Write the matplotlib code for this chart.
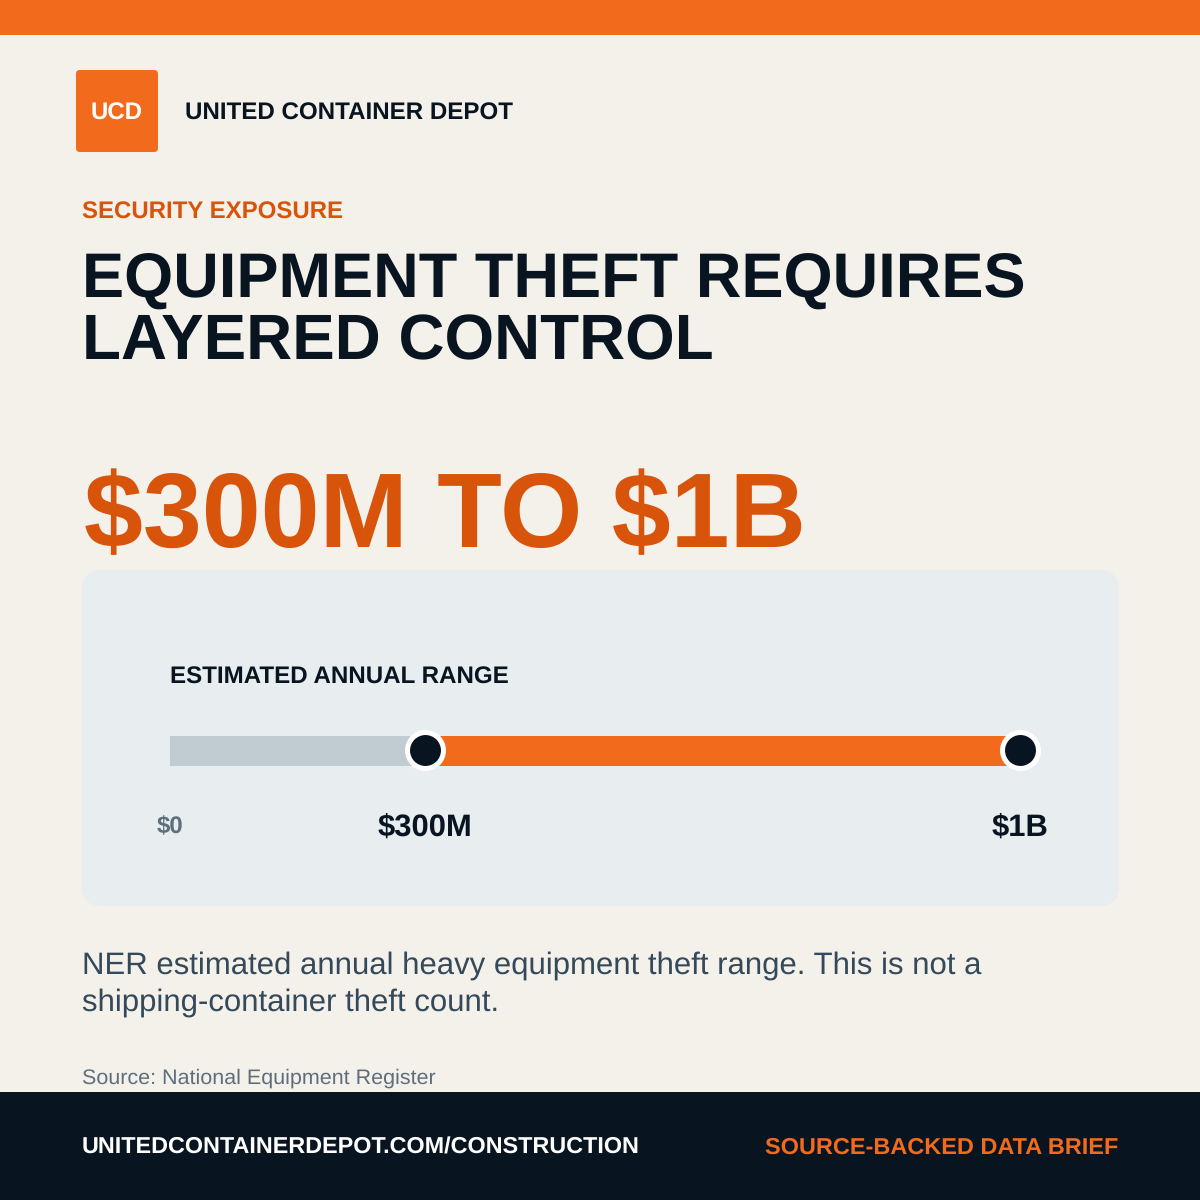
import matplotlib
matplotlib.use("Agg")
import matplotlib.pyplot as plt
from matplotlib.patches import Rectangle, FancyBboxPatch

# colours
ORANGE = "#f26a1b"
DARK_ORANGE = "#d9540b"
NAVY = "#081521"
PAPER = "#f4f1eb"
PANEL = "#e8edf0"
TRACK = "#c1ccd2"
SLATE = "#34495a"
GREY = "#5f6e7b"

# data
range_low = 300
range_high = 1000
scale_min = 0
tick_values = [0, 300, 1000]
tick_labels = ["$0", "$300M", "$1B"]

title_lines = ["EQUIPMENT THEFT REQUIRES", "LAYERED CONTROL"]
note_lines = ["NER estimated annual heavy equipment theft range. This is not a",
              "shipping-container theft count."]

plt.rcParams["font.family"] = ["Liberation Sans", "DejaVu Sans"]
plt.rcParams["text.hinting"] = "no_hinting"
plt.rcParams["text.parse_math"] = False

fig = plt.figure(figsize=(12, 12), dpi=100, facecolor=PAPER)

# page layer, works in pixels from the top left
page = fig.add_axes([0, 0, 1, 1])
page.set_xlim(0, 1200)
page.set_ylim(1200, 0)
page.axis("off")


def label(x, y, s, px, color, weight="normal", ha="left"):
    page.text(x, y, s, fontsize=px * 0.72, color=color, fontweight=weight,
              ha=ha, va="baseline")


page.add_patch(Rectangle((0, 0), 1200, 35, color=ORANGE, lw=0))
page.add_patch(Rectangle((0, 1092), 1200, 108, color=NAVY, lw=0))
page.add_patch(FancyBboxPatch((80, 74), 74, 74, boxstyle="round,pad=4,rounding_size=4",
                              fc=ORANGE, ec="none"))
page.add_patch(FancyBboxPatch((98, 586), 1005, 304, boxstyle="round,pad=16,rounding_size=20",
                              fc=PANEL, ec="none"))

label(90.5, 120, "UCD", 24, "white", "bold")
label(185, 120, "UNITED CONTAINER DEPOT", 24.1, NAVY, "bold")
label(82, 219, "SECURITY EXPOSURE", 24, DARK_ORANGE, "bold")
label(82.5, 298, title_lines[0], 63.1, NAVY, "bold")
label(82.5, 359, title_lines[1], 63.8, NAVY, "bold")
label(83.5, 547, "$300M TO $1B", 105.9, DARK_ORANGE, "bold")
label(170, 684, "ESTIMATED ANNUAL RANGE", 24.1, NAVY, "bold")
label(82, 974, note_lines[0], 31.1, SLATE)
label(82, 1011, note_lines[1], 31.1, SLATE)
label(82, 1084, "Source: National Equipment Register", 21.5, GREY)
label(82, 1154, "UNITEDCONTAINERDEPOT.COM/CONSTRUCTION", 23.35, "white", "bold")
label(1118, 1154, "SOURCE-BACKED DATA BRIEF", 23.5, ORANGE, "bold", ha="right")

# range bar on a real value axis
ax = fig.add_axes([170 / 1200, (1200 - 766) / 1200, 850 / 1200, 30 / 1200])
ax.set_xlim(scale_min, range_high)
ax.set_ylim(0, 1)
ax.axis("off")
ax.barh(0.5, range_low - scale_min, left=scale_min, height=1, color=TRACK, lw=0)
ax.barh(0.5, range_high - range_low, left=range_low, height=1, color=ORANGE, lw=0)
ax.plot([range_low, range_high], [0.52, 0.52], ls="none", marker="o", ms=25.9,
        mfc=NAVY, mec="white", mew=3.6, clip_on=False, zorder=5)

for v, t in zip(tick_values, tick_labels):
    is_base = v == scale_min
    ax.annotate(t, (v, 0), xytext=(0.3, -(67 if is_base else 70) * 0.72), textcoords="offset points",
                ha="center", va="baseline", annotation_clip=False,
                fontsize=(24 if is_base else 31) * 0.72, fontweight="bold",
                color=GREY if is_base else NAVY)

fig.savefig("out.png", dpi=100, facecolor=PAPER)
